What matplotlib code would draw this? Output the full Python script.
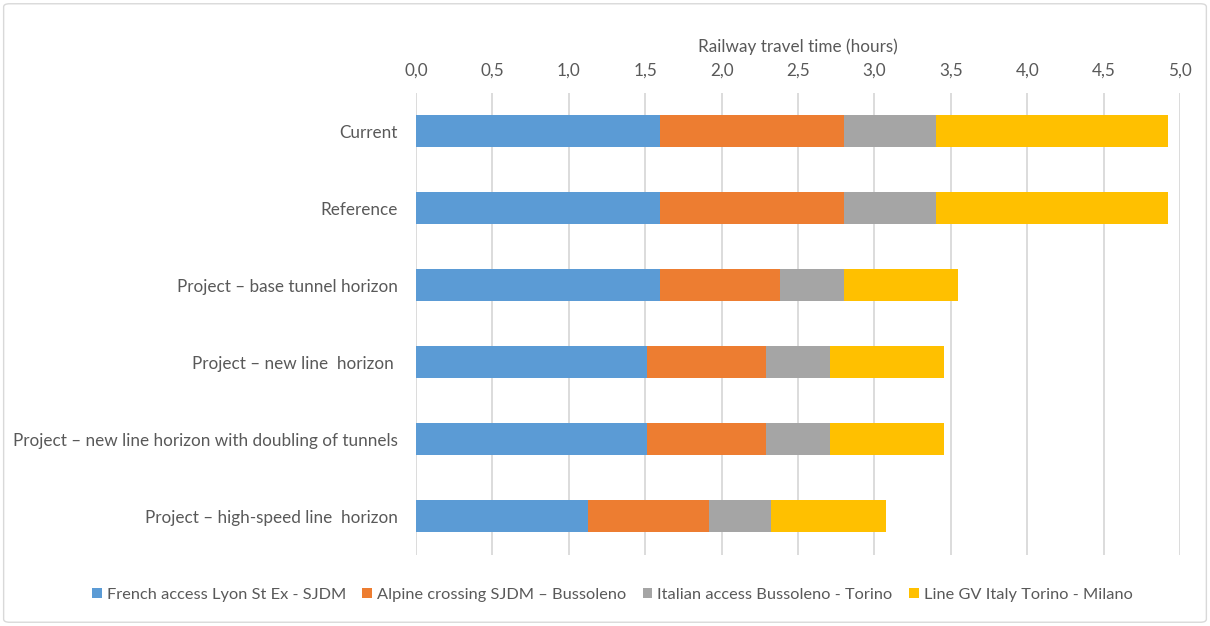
import numpy as np
import matplotlib.pyplot as plt
from matplotlib.patches import FancyBboxPatch

# scenarios, top to bottom
scenarios = ['Current', 'Reference', 'Project – base tunnel horizon',
             'Project – new line  horizon ',
             'Project – new line horizon with doubling of tunnels',
             'Project – high-speed line  horizon']

# travel time per section (hours)
french = [1.60, 1.60, 1.60, 1.51, 1.51, 1.125]
alpine = [1.20, 1.20, 0.78, 0.78, 0.78, 0.79]
italian = [0.60, 0.60, 0.42, 0.42, 0.42, 0.41]
milano = [1.52, 1.52, 0.75, 0.745, 0.745, 0.75]

series_names = ['French access Lyon St Ex - SJDM', 'Alpine crossing SJDM – Bussoleno',
                'Italian access Bussoleno - Torino', 'Line GV Italy Torino - Milano']
colors = ['#5B9BD5', '#ED7D31', '#A5A5A5', '#FFC000']

xticks = np.arange(0, 5.01, 0.5)
xtick_labels = ['%.1f' % v for v in xticks]
xtick_labels = [s.replace('.', ',') for s in xtick_labels]

txt = '#595959'
fs = 12.3
plt.rcParams['font.family'] = ['Lato', 'DejaVu Sans']

fig = plt.figure(figsize=(12.1, 6.26), dpi=100)
ax = fig.add_axes([0.3438, 0.1142, 0.6314, 0.738])

y = np.arange(len(scenarios))
left = np.zeros(len(scenarios))
for vals, name, c in zip([french, alpine, italian, milano], series_names, colors):
    ax.barh(y, vals, left=left, height=0.42, color=c, label=name, zorder=3)
    left = left + np.array(vals)

ax.set_ylim(len(scenarios) - 0.5, -0.5)
ax.set_yticks(y)
ax.set_yticklabels(scenarios, fontsize=fs, color=txt)
ax.set_xlim(0, 5)
ax.set_xticks(xticks)
ax.set_xticklabels(xtick_labels, fontsize=fs, color=txt)
ax.xaxis.tick_top()
ax.xaxis.set_label_position('top')
ax.set_xlabel('Railway travel time (hours)', fontsize=fs, color=txt, labelpad=8)
ax.tick_params(axis='both', length=0)
ax.tick_params(axis='x', pad=10)
ax.tick_params(axis='y', pad=13)
ax.grid(axis='x', color='#d9d9d9', linewidth=1.3, zorder=0)
for s in ax.spines.values():
    s.set_visible(False)

leg = fig.legend(loc='center', bbox_to_anchor=(0.506, 0.05), ncol=4, frameon=False,
                 fontsize=11.8, handlelength=0.6, handleheight=0.6, handletextpad=0.3,
                 columnspacing=1.0)
for t in leg.get_texts():
    t.set_color(txt)

border = FancyBboxPatch((0.003, 0.006), 0.994, 0.988, boxstyle='round,pad=0,rounding_size=0.005',
                        transform=fig.transFigure, fill=False, edgecolor='#d9d9d9', linewidth=1)
fig.patches.append(border)

fig.savefig('out.png', dpi=100)
